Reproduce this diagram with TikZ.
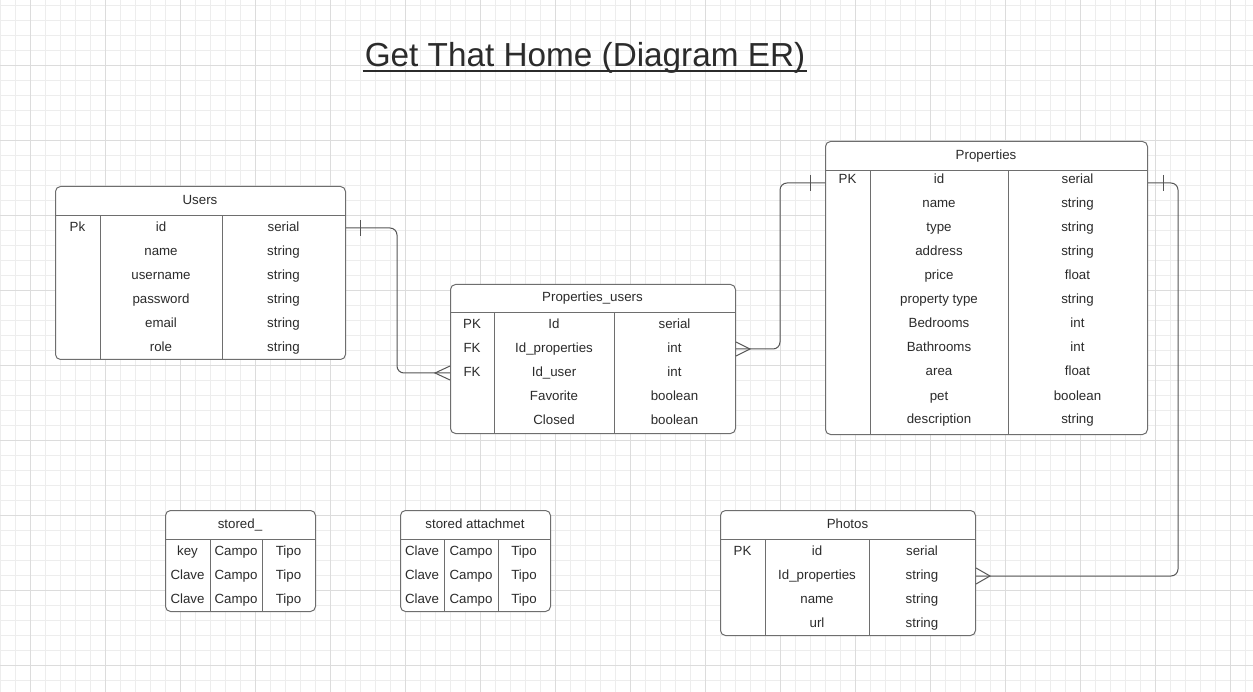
\documentclass[tikz,border=0pt]{standalone}
\usepackage{fontspec}
\setmainfont{Liberation Sans}
\usetikzlibrary{calc}
\definecolor{gminor}{HTML}{EDEDED}
\definecolor{gmajor}{HTML}{DCDCDC}
\definecolor{border}{HTML}{6E6E6E}
\definecolor{ink}{HTML}{2B2B2B}
\definecolor{wirec}{HTML}{555555}
\begin{document}
\begin{tikzpicture}[x=1pt,y=-1pt,
  tbl/.style={draw=border, line width=1pt, rounded corners=5pt, inner sep=0pt, anchor=north west, fill=white},
  sepline/.style={draw=border, line width=1pt},
  cell/.style={anchor=base, inner sep=0pt, text=ink, font=\fontsize{13.3}{16}\selectfont},
  wire/.style={draw=wirec, line width=1pt},
  ]
\useasboundingbox (0,0) rectangle (1253,692);
\fill[white] (0,0) rectangle (1253,692);
% grid
\foreach \x in {0,15,...,1245} \draw[gminor, line width=0.9pt] (\x,0) -- (\x,692);
\foreach \y in {5,20,...,690} \draw[gminor, line width=0.9pt] (0,\y) -- (1253,\y);
\foreach \x in {30,105,...,1230} \draw[gmajor, line width=0.9pt] (\x,0) -- (\x,692);
\foreach \y in {65,140,...,665} \draw[gmajor, line width=0.9pt] (0,\y) -- (1253,\y);

% title
\node[anchor=base, inner sep=0pt, text=ink, font=\fontsize{33.3}{40}\selectfont] (title) at (585,66.7) {Get That Home (Diagram ER)};
\draw[ink, line width=1.8pt] ($(title.base west)+(-2,4.5)$) -- ($(title.base east)+(2,4.5)$);

% ---------- Users
\node[tbl, minimum width=290pt, minimum height=173pt] (users) at (55,186) {};
\draw[sepline] (55,216) -- (345,216);
\draw[sepline] (100,216) -- (100,359);
\draw[sepline] (222,216) -- (222,359);
\node[cell] (users-h) at (200,205) {Users};
\foreach \a/\b/\c [count=\i from 0] in {Pk/id/serial, {}/name/string, {}/username/string, {}/password/string, {}/email/string, {}/role/string}{
  \node[cell] (users-\i-a) at (77.5,{231.5+24*\i}) {\a};
  \node[cell] (users-\i-b) at (161,{231.5+24*\i}) {\b};
  \node[cell] (users-\i-c) at (283.5,{231.5+24*\i}) {\c};
}

% ---------- Properties_users
\node[tbl, minimum width=285pt, minimum height=149pt] (pu) at (450,284) {};
\draw[sepline] (450,313) -- (735,313);
\draw[sepline] (494,313) -- (494,433);
\draw[sepline] (614,313) -- (614,433);
\node[cell] (pu-h) at (592.5,301.5) {Properties\_users};
\foreach \a/\b/\c [count=\i from 0] in {PK/Id/serial, FK/Id\_properties/int, FK/Id\_user/int, {}/Favorite/boolean, {}/Closed/boolean}{
  \node[cell] (pu-\i-a) at (472,{328.5+24*\i}) {\a};
  \node[cell] (pu-\i-b) at (554,{328.5+24*\i}) {\b};
  \node[cell] (pu-\i-c) at (674.5,{328.5+24*\i}) {\c};
}

% ---------- Properties
\node[tbl, minimum width=322pt, minimum height=293pt] (prop) at (825,141) {};
\draw[sepline] (825,171) -- (1147,171);
\draw[sepline] (870,171) -- (870,434);
\draw[sepline] (1008,171) -- (1008,434);
\node[cell] (prop-h) at (986,160) {Properties};
\foreach \a/\b/\c [count=\i from 0] in {PK/id/serial, {}/name/string, {}/type/string, {}/address/string, {}/price/float, {}/property type/string, {}/Bedrooms/int, {}/Bathrooms/int, {}/area/float, {}/pet/boolean, {}/description/string}{
  \node[cell] (prop-\i-a) at (847.5,{184+24*\i}) {\a};
  \node[cell] (prop-\i-b) at (939,{184+24*\i}) {\b};
  \node[cell] (prop-\i-c) at (1077.5,{184+24*\i}) {\c};
}

% ---------- Photos
\node[tbl, minimum width=255pt, minimum height=125pt] (photos) at (720,510) {};
\draw[sepline] (720,539) -- (975,539);
\draw[sepline] (765,539) -- (765,635);
\draw[sepline] (869,539) -- (869,635);
\node[cell] (photos-h) at (847.5,528.3) {Photos};
\foreach \a/\b/\c [count=\i from 0] in {PK/id/serial, {}/Id\_properties/string, {}/name/string, {}/url/string}{
  \node[cell] (photos-\i-a) at (742.5,{555+24*\i}) {\a};
  \node[cell] (photos-\i-b) at (817,{555+24*\i}) {\b};
  \node[cell] (photos-\i-c) at (922,{555+24*\i}) {\c};
}

% ---------- stored_
\node[tbl, minimum width=150pt, minimum height=101pt] (st) at (165,510) {};
\draw[sepline] (165,539) -- (315,539);
\draw[sepline] (210,539) -- (210,611);
\draw[sepline] (262,539) -- (262,611);
\node[cell] (st-h) at (240,528.3) {stored\_};
\foreach \a/\b/\c [count=\i from 0] in {key/Campo/Tipo, Clave/Campo/Tipo, Clave/Campo/Tipo}{
  \node[cell] (st-\i-a) at (187.5,{555+24*\i}) {\a};
  \node[cell] (st-\i-b) at (236,{555+24*\i}) {\b};
  \node[cell] (st-\i-c) at (288.5,{555+24*\i}) {\c};
}

% ---------- stored attachmet
\node[tbl, minimum width=150pt, minimum height=101pt] (sa) at (400,510) {};
\draw[sepline] (400,539) -- (550,539);
\draw[sepline] (444,539) -- (444,611);
\draw[sepline] (498,539) -- (498,611);
\node[cell] (sa-h) at (475,528.3) {stored attachmet};
\foreach \a/\b/\c [count=\i from 0] in {Clave/Campo/Tipo, Clave/Campo/Tipo, Clave/Campo/Tipo}{
  \node[cell] (sa-\i-a) at (422,{555+24*\i}) {\a};
  \node[cell] (sa-\i-b) at (471,{555+24*\i}) {\b};
  \node[cell] (sa-\i-c) at (524,{555+24*\i}) {\c};
}

% ---------- connectors
% Users.id -> Properties_users.Id_user
\draw[wire, rounded corners=7pt] (users.east |- 0,228) -- (397,228) -- (397,373) -- (pu.west |- 0,373);
\draw[wire] (360,220) -- (360,236);
\draw[wire] (pu.west |- 0,366) -- (435,373) -- (pu.west |- 0,380);

% Properties_users.Id_properties -> Properties.id
\draw[wire, rounded corners=7pt] (pu.east |- 0,349) -- (780,349) -- (780,183) -- (prop.west |- 0,183);
\draw[wire] (810,175) -- (810,191);
\draw[wire] (pu.east |- 0,342) -- (750,349) -- (pu.east |- 0,356);

% Properties.id -> Photos.Id_properties
\draw[wire, rounded corners=7pt] (prop.east |- 0,183) -- (1178,183) -- (1178,576) -- (photos.east |- 0,576);
\draw[wire] (1163,175) -- (1163,191);
\draw[wire] (photos.east |- 0,568) -- (990,576) -- (photos.east |- 0,584);
\end{tikzpicture}
\end{document}
